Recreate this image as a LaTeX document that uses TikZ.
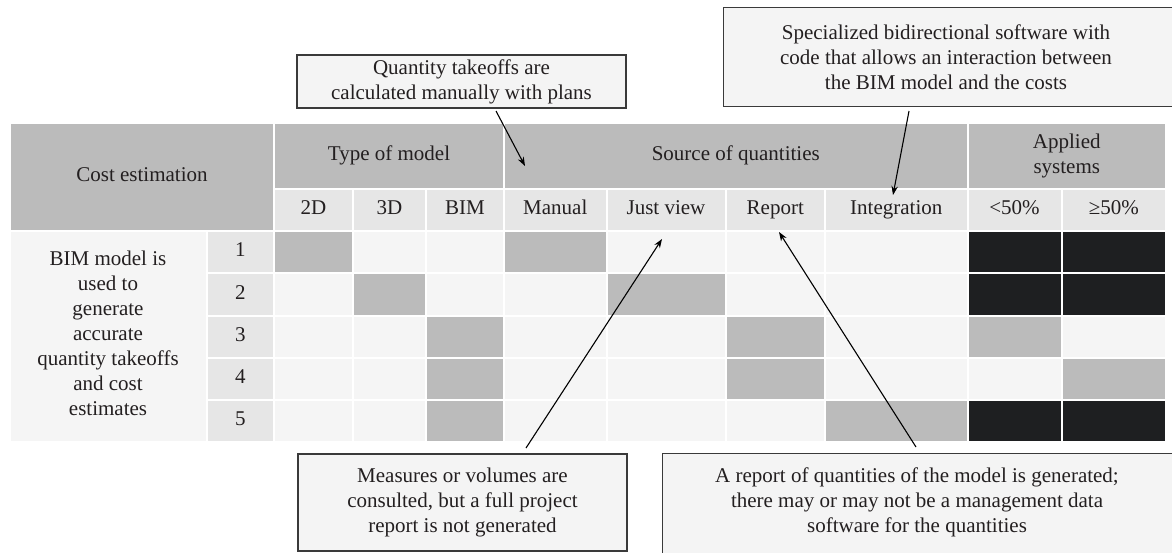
\documentclass[tikz,border=0pt]{standalone}
\usepackage{fontspec}
\setmainfont{Liberation Serif}
\usetikzlibrary{arrows.meta}
\definecolor{hdr}{HTML}{BBBBBB}
\definecolor{sub}{HTML}{E6E6E6}
\definecolor{lite}{HTML}{F5F5F5}
\definecolor{mid}{HTML}{BBBBBB}
\definecolor{dark}{HTML}{1E1F21}
\definecolor{ink}{HTML}{231F20}
\definecolor{boxfill}{HTML}{F4F4F4}
\definecolor{boxline}{HTML}{3A3A3A}
\newcommand\cellbox[5]{\fill[#5] ({#1+1},{#3+1}) rectangle ({#2-1},{#4-1});}
\begin{document}
\begin{tikzpicture}[x=1pt,y=-1pt,
  font=\fontsize{21}{25}\selectfont,
  celltext/.style={text=ink, align=center, inner sep=0pt},
  oneline/.style={celltext, text height=14pt, text depth=4.5pt},
  callout/.style={draw=boxline, line width=1.2pt, fill=boxfill, inner sep=0pt, align=center, text=ink},
  ptr/.style={-{Stealth[length=9pt,width=6.5pt]}, line width=1.1pt, draw=black}]
\fill[white] (0,0) rectangle (1172,552);
\useasboundingbox (0,0) rectangle (1172,552);
% header row 1
\cellbox{10}{274}{123}{230.5}{hdr}
\cellbox{274}{504}{123}{189}{hdr}
\cellbox{504}{967.5}{123}{189}{hdr}
\cellbox{967.5}{1166}{123}{189}{hdr}
% header row 2
\foreach \xa/\xb in {274/353,353/426,426/504,504/606.5,606.5/725.5,725.5/825,825/967.5,967.5/1061.5,1061.5/1166}
  {\cellbox{\xa}{\xb}{189}{230.5}{sub}}
% label column
\cellbox{10}{206.5}{230.5}{442}{lite}
% number column and data cells
\foreach \ya/\yb in {230.5/273,273/315.5,315.5/357.5,357.5/400,400/442}{
  \cellbox{206.5}{274}{\ya}{\yb}{sub}
  \foreach \xa/\xb in {274/353,353/426,426/504,504/606.5,606.5/725.5,725.5/825,825/967.5,967.5/1061.5,1061.5/1166}
    {\cellbox{\xa}{\xb}{\ya}{\yb}{lite}}
}
% highlighted cells
\foreach \xa/\xb/\ya/\yb/\c in {
  274/353/230.5/273/mid, 504/606.5/230.5/273/mid, 967.5/1061.5/230.5/273/dark, 1061.5/1166/230.5/273/dark,
  353/426/273/315.5/mid, 606.5/725.5/273/315.5/mid, 967.5/1061.5/273/315.5/dark, 1061.5/1166/273/315.5/dark,
  426/504/315.5/357.5/mid, 725.5/825/315.5/357.5/mid, 967.5/1061.5/315.5/357.5/mid,
  426/504/357.5/400/mid, 725.5/825/357.5/400/mid, 1061.5/1166/357.5/400/mid,
  426/504/400/442/mid, 825/967.5/400/442/mid, 967.5/1061.5/400/442/dark, 1061.5/1166/400/442/dark}
  {\cellbox{\xa}{\xb}{\ya}{\yb}{\c}}
% header texts
\node[oneline] (hcost) at (142,176.75) {Cost estimation};
\node[oneline] (htype) at (389,156) {Type of model};
\node[oneline] (hsrc) at (735.75,156) {Source of quantities};
\node[celltext] (happ) at (1066.75,156) {Applied\\systems};
\node[oneline] (h2d) at (313.5,210) {2D};
\node[oneline] (h3d) at (389.5,210) {3D};
\node[oneline] (hbim) at (465,210) {BIM};
\node[oneline] (hman) at (555.25,210) {Manual};
\node[oneline] (hjv) at (666,210) {Just view};
\node[oneline] (hrep) at (775.25,210) {Report};
\node[oneline] (hint) at (896.25,210) {Integration};
\node[oneline] (hlt) at (1014.5,210) {<50\%};
\node[oneline] (hge) at (1113.75,210) {≥50\%};
% row numbers
\node[oneline] (n1) at (240.25,251.75) {1};
\node[oneline] (n2) at (240.25,294.25) {2};
\node[oneline] (n3) at (240.25,336.5) {3};
\node[oneline] (n4) at (240.25,378.75) {4};
\node[oneline] (n5) at (240.25,421) {5};
\node[celltext] (lab) at (108,333) {BIM model is\\used to\\generate\\accurate\\quantity takeoffs\\and cost\\estimates};
% callouts
\node[callout, minimum width=329, minimum height=53] (c1) at (461.5,81.5)
  {Quantity takeoffs are\\calculated manually with plans};
\node[callout, minimum width=470, minimum height=99, anchor=north west] (c2) at (723,7) {};
\node[celltext] (c2t) at (946,57)
  {Specialized bidirectional software with\\code that allows an interaction between\\the BIM model and the costs};
\node[callout, minimum width=329, minimum height=97] (c3) at (462.5,502.5)
  {Measures or volumes are\\consulted, but a full project\\report is not generated};
\node[callout, minimum width=520, minimum height=115, anchor=north west] (c4) at (662,453) {};
\node[celltext] (c4t) at (917,502)
  {A report of quantities of the model is generated;\\there may or may not be a management data\\software for the quantities};
% arrows
\coordinate (s1) at (496,111); \coordinate (e1) at (525,166);
\coordinate (s2) at (909,111); \coordinate (e2) at (893,195);
\coordinate (s3) at (526,448); \coordinate (e3) at (662,239);
\coordinate (s4) at (916,447); \coordinate (e4) at (779,232);
\draw[ptr] (s1) -- (e1);
\draw[ptr] (s2) -- (e2);
\draw[ptr] (s3) -- (e3);
\draw[ptr] (s4) -- (e4);
\end{tikzpicture}
\end{document}
